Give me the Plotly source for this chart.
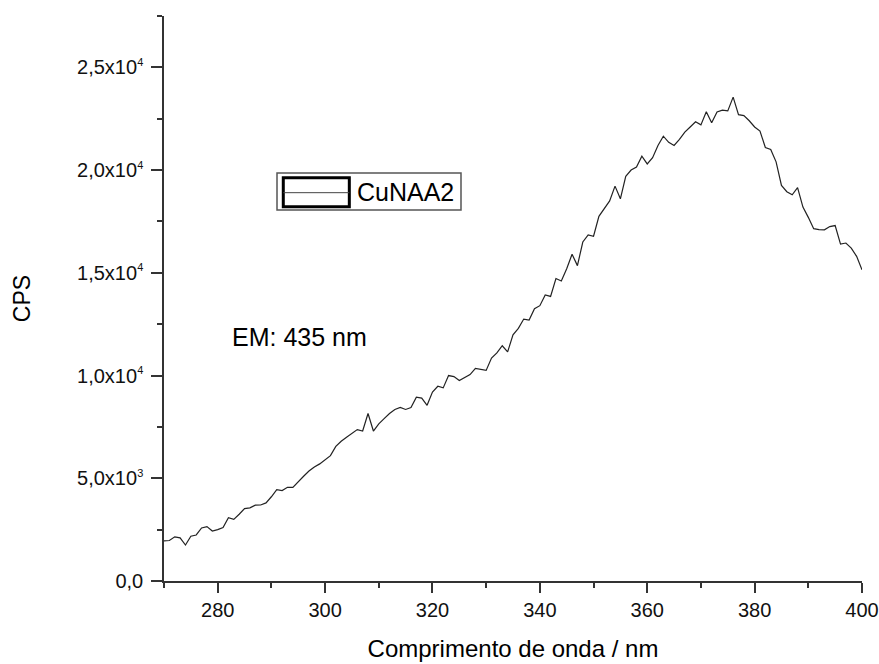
import plotly.graph_objects as go

wavelength = list(range(270, 401))
cps = [
    1950, 1970, 2150, 2100, 1750, 2180, 2240, 2580, 2650, 2430,
    2500, 2600, 3080, 3000, 3250, 3520, 3560, 3690, 3700, 3800,
    4100, 4450, 4400, 4560, 4560, 4850, 5100, 5350, 5550, 5700,
    5900, 6100, 6550, 6800, 7000, 7200, 7370, 7300, 8150, 7300,
    7650, 7900, 8150, 8350, 8450, 8350, 8440, 8950, 8900, 8550,
    9200, 9480, 9400, 10000, 9950, 9760, 9900, 10050, 10350, 10300,
    10250, 10850, 11100, 11450, 11150, 11980, 12300, 12750, 12700, 13250,
    13400, 13920, 13850, 14720, 14600, 15200, 15900, 15350, 16500, 16850,
    16780, 17750, 18100, 18500, 19220, 18600, 19700, 20000, 20150, 20680,
    20300, 20600, 21200, 21650, 21350, 21200, 21500, 21850, 22100, 22350,
    22200, 22840, 22300, 22830, 22920, 22880, 23550, 22700, 22650, 22400,
    22100, 21900, 21100, 21000, 20400, 19250, 18950, 18800, 19150, 18200,
    17700, 17150, 17100, 17090, 17250, 17300, 16400, 16450, 16200, 15800,
    15150,
]

SUP = "<sup><span style='font-size:11px'>{}</span></sup>"
y_tickvals = [0, 5000, 10000, 15000, 20000, 25000]
y_ticktext = ["0,0", "5,0x10" + SUP.format(3), "1,0x10" + SUP.format(4), "1,5x10" + SUP.format(4),
              "2,0x10" + SUP.format(4), "2,5x10" + SUP.format(4)]
series_name = "CuNAA2"
note_text = "EM: 435 nm"
x_title = "Comprimento de onda / nm"
y_title = "CPS"

FONT = "Liberation Sans, Arial, sans-serif"
AX = "#333333"

fig = go.Figure()
fig.add_trace(go.Scatter(x=wavelength, y=cps, mode="lines", name=series_name,
                         line=dict(color="#222222", width=1.2), showlegend=False))

fig.update_layout(
    template="none",
    width=879, height=664,
    margin=dict(l=164, r=17, t=16, b=83, pad=0),
    paper_bgcolor="white", plot_bgcolor="white",
    font=dict(family=FONT, color="black"),
    showlegend=False,
    xaxis=dict(
        range=[270, 400], dtick=20, tick0=0, automargin=False, ticklabeloverflow="allow",
        showline=True, linecolor=AX, linewidth=1.5, mirror=False,
        ticks="outside", ticklen=10, tickwidth=1.5, tickcolor=AX,
        minor=dict(dtick=10, tick0=270, ticks="outside", ticklen=5, tickwidth=1.5, tickcolor=AX, showgrid=False),
        showgrid=False, zeroline=False,
        tickfont=dict(size=20, family=FONT, color="#111111"),
        title=dict(text=x_title, font=dict(size=24, family=FONT), standoff=20),
    ),
    yaxis=dict(
        range=[0, 27500], tickvals=y_tickvals, ticktext=y_ticktext, automargin=False,
        showline=True, linecolor=AX, linewidth=1.5, mirror=False,
        ticks="outside", ticklen=11, tickwidth=1.5, tickcolor=AX,
        minor=dict(dtick=2500, tick0=0, ticks="outside", ticklen=5, tickwidth=1.5, tickcolor=AX, showgrid=False),
        showgrid=False, zeroline=False, ticklabelstandoff=4,
        tickfont=dict(size=20, family=FONT, color="#111111"),
        title=dict(text=y_title, font=dict(size=23, family=FONT), standoff=40),
    ),
)

# legend box drawn like the original
fig.add_shape(type="rect", xref="paper", yref="paper", x0=0.1619, x1=0.4255, y0=0.6566, y1=0.7221,
              line=dict(color="#555555", width=1.5), fillcolor="white")
fig.add_shape(type="rect", xref="paper", yref="paper", x0=0.1709, x1=0.2655, y0=0.6625, y1=0.7138,
              line=dict(color="black", width=3))
fig.add_shape(type="line", xref="paper", yref="paper", x0=0.1709, x1=0.2655, y0=0.6873, y1=0.6873,
              line=dict(color="#444444", width=1))
fig.add_annotation(xref="paper", yref="paper", x=0.2736, y=0.689, xanchor="left", yanchor="middle",
                   text=series_name, showarrow=False, font=dict(size=25, family=FONT, color="black"))

fig.add_annotation(x=282.3, y=11870, xanchor="left", yanchor="middle", text=note_text,
                   showarrow=False, font=dict(size=25, family=FONT, color="black"))

fig.write_html("out.html")
